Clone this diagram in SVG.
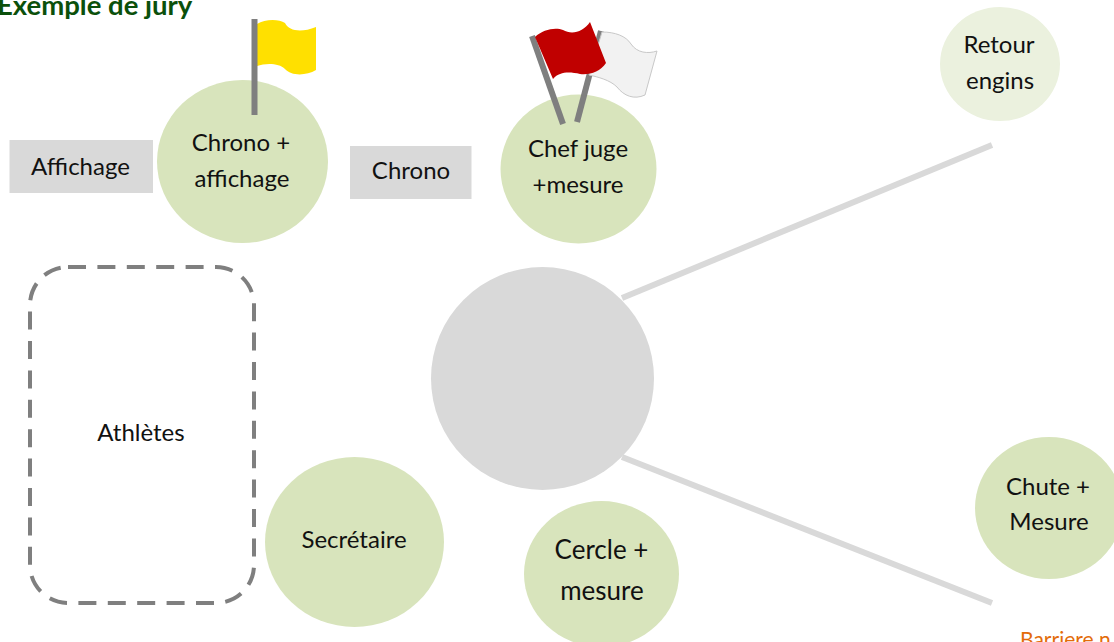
<svg xmlns="http://www.w3.org/2000/svg" width="1114" height="642" viewBox="0 0 1114 642">
<style>
text{font-family:"Lato","Liberation Sans",sans-serif;font-size:24px;fill:#111;text-anchor:middle}
.g{fill:#d8e4bc}
.box{fill:#d9d9d9}
.pole{stroke:#7f7f7f;stroke-width:6;fill:none}
.conn{stroke:#d9d9d9;stroke-width:6;fill:none}
</style>
<rect width="1114" height="642" fill="#fff"/>
<text x="-3" y="15" style="font-weight:700;font-size:27.500px;fill:#0b500b;text-anchor:start">Exemple de jury</text>
<g id="connectors">
<line class="conn" x1="622" y1="298" x2="992" y2="145"/>
<line class="conn" x1="622" y1="457" x2="992" y2="603"/>
</g>
<g id="affichage"><rect class="box" x="9.500" y="140" width="143.500" height="53"/><text x="80.500" y="175">Affichage</text></g>
<g id="chrono-affichage"><ellipse class="g" cx="242.500" cy="161.500" rx="85.500" ry="81.500"/><text x="241" y="151">Chrono +</text><text x="242" y="187">affichage</text></g>
<g id="flag-yellow">
<path d="M257 24C265 19 279 19 285 23C289 31 301 33 316 27L316 70C306 76 291 76 285 69C279 63 266 63 257 66Z" fill="#ffe000"/>
<line class="pole" x1="254.500" y1="19" x2="254.500" y2="115"/>
</g>
<g id="chrono"><rect class="box" x="350" y="146" width="121.500" height="53"/><text x="411" y="179">Chrono</text></g>
<g id="chef-juge"><ellipse class="g" cx="578.500" cy="169" rx="78" ry="74.500"/><text x="578" y="157">Chef juge</text><text x="578" y="193">+mesure</text></g>
<g id="flag-white">
<line class="pole" x1="601" y1="31" x2="577" y2="122"/>
<path d="M602 32C615 32 626 36 631 44C637 53 648 54 657 51L645 95C634 100 624 96 617 87C610 80 598 77 589 75Z" fill="#f2f2f2" stroke="#c8c8c8" stroke-width="1"/>
</g>
<g id="flag-red">
<line class="pole" x1="532" y1="36" x2="563" y2="124"/>
<path d="M535 37C543 29 556 27 563 30C572 35 583 32 590 22L606 63C600 72 590 75 580 74C570 72 560 71 553 79Z" fill="#c00000"/>
</g>
<g id="retour"><ellipse cx="1000" cy="64" rx="60" ry="57" fill="#ebf1de"/><text x="999" y="53">Retour</text><text x="1000" y="89">engins</text></g>
<g id="centre"><circle cx="542.500" cy="378.500" r="111.500" fill="#d9d9d9"/></g>
<g id="athletes"><rect x="30" y="267" width="224" height="336" rx="38" ry="38" fill="none" stroke="#7f7f7f" stroke-width="4" stroke-dasharray="18 11.400"/><text x="141" y="441">Athlètes</text></g>
<g id="secretaire"><ellipse class="g" cx="354.500" cy="542" rx="89.500" ry="85"/><text x="354" y="548">Secrétaire</text></g>
<g id="cercle"><ellipse class="g" cx="601.500" cy="574" rx="77.500" ry="73"/><text x="601.500" y="559" style="font-size:26px">Cercle +</text><text x="602" y="600" style="font-size:26px">mesure</text></g>
<g id="chute"><ellipse class="g" cx="1049" cy="508" rx="74" ry="71"/><text x="1048" y="495">Chute +</text><text x="1049" y="530">Mesure</text></g>
<text x="1020" y="647" style="font-size:21px;fill:#e36c0a;text-anchor:start">Barriere n</text>
</svg>
